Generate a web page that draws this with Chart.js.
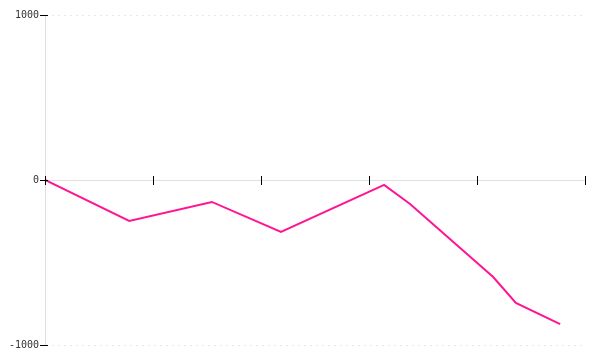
<!DOCTYPE html>
<html>
<head>
<meta charset="utf-8">
<script src="https://cdn.jsdelivr.net/npm/chart.js@4"></script>
<style>
  html, body { margin: 0; padding: 0; background: #fff; }
  #wrap { width: 600px; height: 360px; }
</style>
</head>
<body>
<div id="wrap"><canvas id="chart" width="600" height="360"></canvas></div>
<script>
// --- Data ---
const xValues = [0, 15.6, 30.9, 43.7, 62.8, 67.6, 83.0, 87.2, 95.4];
const yValues = [0, -248, -133, -315, -30, -145, -588, -745, -873];
const yTicks = [-1000, 0, 1000];

// --- Custom tick marks (cross the axis lines) ---
const tickMarks = {
    id: 'tickMarks',
    afterDraw(chart) {
        const ctx = chart.ctx;
        const xs = chart.scales.x;
        const ys = chart.scales.y;
        const y0 = ys.getPixelForValue(0);
        const x0 = xs.getPixelForValue(0);
        ctx.save();
        ctx.strokeStyle = '#000';
        ctx.lineWidth = 1;
        ctx.beginPath();
        xs.ticks.forEach(t => {
            const px = Math.round(xs.getPixelForValue(t.value)) + 0.5;
            ctx.moveTo(px, y0 - 4);
            ctx.lineTo(px, y0 + 5);
        });
        ys.ticks.forEach(t => {
            const py = Math.round(ys.getPixelForValue(t.value)) + 0.5;
            ctx.moveTo(x0 - 5, py);
            ctx.lineTo(x0 + 3, py);
        });
        ctx.stroke();
        ctx.restore();
    }
};

const ctx = document.getElementById('chart').getContext('2d');
const chart = new Chart(ctx, {
    type: 'line',
    data: {
        datasets: [{
            data: xValues.map((x, i) => ({ x: x, y: yValues[i] })),
            borderColor: '#ff1493',
            borderWidth: 2,
            pointRadius: 0,
            tension: 0,
            fill: false
        }]
    },
    options: {
        responsive: false,
        animation: false,
        layout: { padding: { top: 15, bottom: 15, right: 15, left: 0 } },
        plugins: {
            legend: { display: false },
            tooltip: { enabled: false }
        },
        scales: {
            x: {
                type: 'linear',
                position: { y: 0 },
                min: 0,
                max: 100,
                ticks: { stepSize: 20, display: false },
                grid: { display: false },
                border: { display: true, color: '#e0e0e0', width: 1 }
            },
            y: {
                min: -1000,
                max: 1000,
                afterBuildTicks: (scale) => { scale.ticks = yTicks.map(v => ({ value: v })); },
                afterFit: (scale) => { scale.width = 45; },
                ticks: {
                    padding: 6,
                    color: '#333',
                    font: { family: 'DejaVu Sans Mono', size: 10 },
                    callback: (v) => String(v)
                },
                grid: {
                    drawTicks: false,
                    color: (c) => c.tick && c.tick.value === 0 ? 'rgba(0,0,0,0)' : '#e8e8e8',
                    lineWidth: 1
                },
                border: { display: true, color: '#e0e0e0', dash: [2, 4] }
            }
        }
    },
    plugins: [tickMarks]
});
</script>
</body>
</html>
